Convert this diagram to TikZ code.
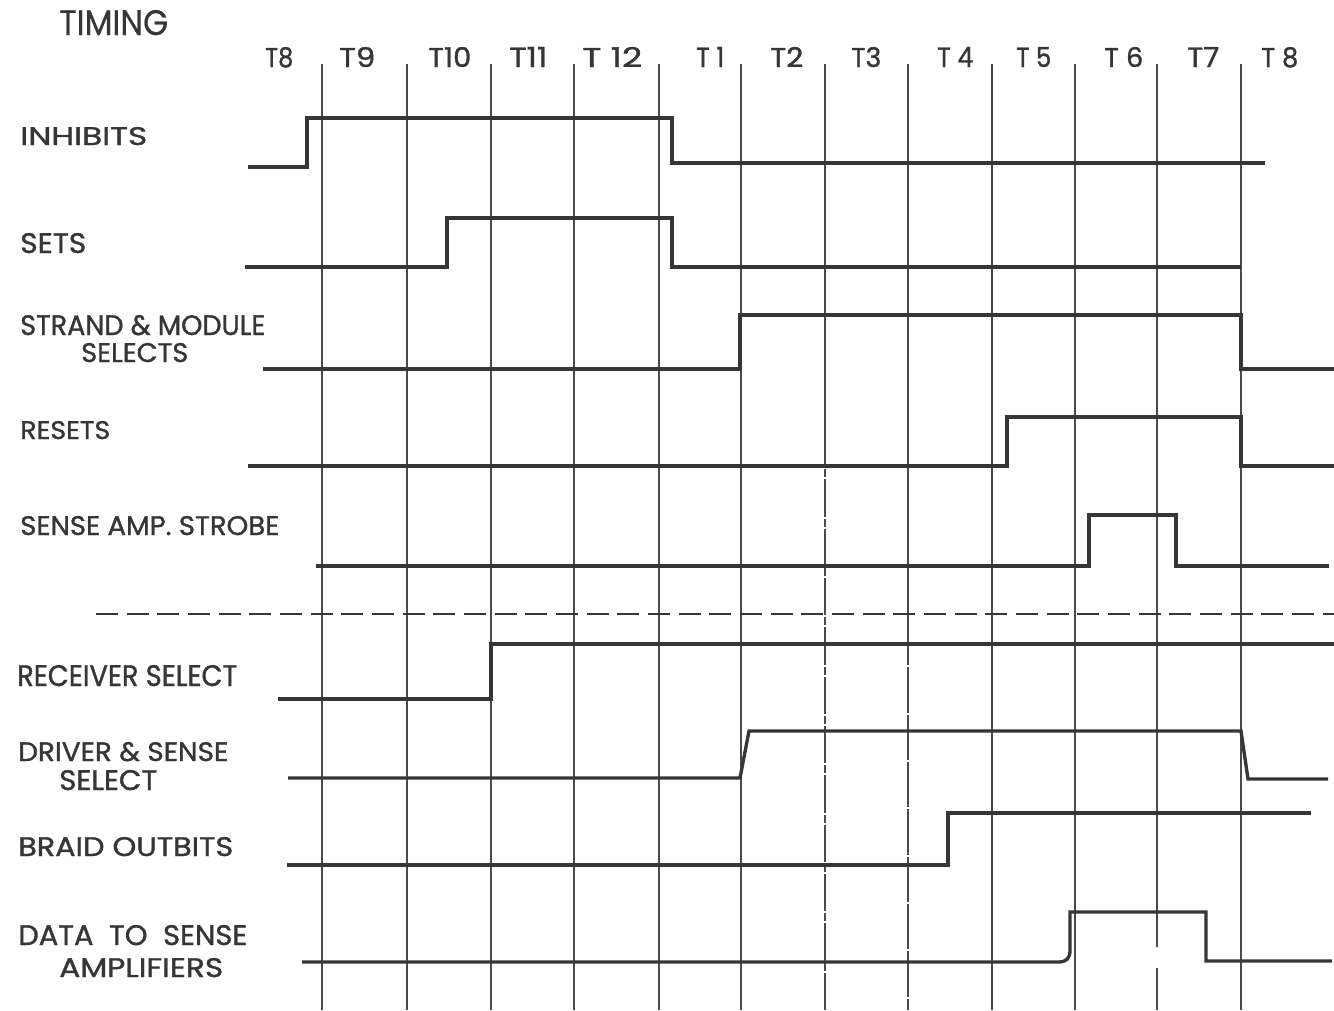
\documentclass[tikz,border=0pt]{standalone}
\usepackage{fontspec}
\setmainfont{Poppins}
\newfontfamily\lblfont[FakeBold=1.2]{Poppins}
\newfontfamily\ttlfont[FakeBold=0.5]{Poppins}
\usepackage{graphicx}
\newlength\pxu
\setlength\pxu{0.75pt}
\newcommand\fitbox[3]{\resizebox{#1\pxu}{#2\pxu}{#3}}
\definecolor{ink}{HTML}{363636}
\definecolor{gridc}{HTML}{4A4A4A}
\begin{document}
\begin{tikzpicture}[x=0.75pt,y=-0.75pt,
  lbl/.style={anchor=base west,inner sep=0pt,text=ink,font=\lblfont},
  sig/.style={draw=ink,line width=2.5pt,line join=miter},
  gridline/.style={draw=gridc,line width=0.95pt},
  sep/.style={draw=ink,line width=1.1pt,dash pattern=on 16.5pt off 6.5pt}]
\useasboundingbox[fill=white] (0,0) rectangle (1334,1010);

% title and time slots
\node[lbl,font=\ttlfont] (title) at (59,35) {\fitbox{109}{25}{TIMING}};
\node[lbl] (t8a)  at (265,67)  {\fitbox{28}{20}{T8}};
\node[lbl] (t9)   at (339,67)  {\fitbox{36}{20}{T9}};
\node[lbl] (t10)  at (428,67)  {\fitbox{43}{20}{T10}};
\node[lbl] (t11)  at (509,67)  {\fitbox{38}{20}{T11}};
\node[lbl] (t12)  at (582,67)  {\fitbox{60}{20}{T 12}};
\node[lbl] (t1)   at (696,67)  {\fitbox{28}{20}{T 1}};
\node[lbl] (t2)   at (770,67)  {\fitbox{33}{20}{T2}};
\node[lbl] (t3)   at (851,67)  {\fitbox{30}{20}{T3}};
\node[lbl] (t4)   at (937,67)  {\fitbox{36}{20}{T 4}};
\node[lbl] (t5)   at (1016,67) {\fitbox{35}{20}{T 5}};
\node[lbl] (t6)   at (1104,67) {\fitbox{39}{20}{T 6}};
\node[lbl] (t7)   at (1187,67) {\fitbox{32}{20}{T7}};
\node[lbl] (t8b)  at (1261,67) {\fitbox{37}{20}{T 8}};

% grid
\foreach \gx in {322,407,491,574,659,741,992,1075,1241}
  \draw[gridline] (\gx,64) -- (\gx,1010);
\draw[gridline] (825,64) -- (825,430);
\draw[gridline,dash pattern=on 28pt off 1.5pt on 6pt off 1.5pt] (825,430) -- (825,1010);
\draw[gridline] (908,64) -- (908,620);
\draw[gridline,dash pattern=on 34pt off 1.5pt] (908,620) -- (908,1010);
\draw[gridline] (1157,64) -- (1157,947);
\draw[gridline] (1157,968) -- (1157,1010);

% signal labels
\node[lbl] (inh)  at (20,145)  {\fitbox{127}{18}{INHIBITS}};
\node[lbl] (sets) at (20,253)  {\fitbox{66}{20}{SETS}};
\node[lbl] (str1) at (20,335)  {\fitbox{245}{20}{STRAND \& MODULE}};
\node[lbl] (str2) at (81,362)  {\fitbox{107}{19}{SELECTS}};
\node[lbl] (res)  at (20,439)  {\fitbox{90}{18}{RESETS}};
\node[lbl] (stb)  at (20,535)  {\fitbox{259}{19}{SENSE AMP. STROBE}};
\node[lbl] (rcv)  at (17,686)  {\fitbox{220}{21}{RECEIVER SELECT}};
\node[lbl] (drv1) at (18,761)  {\fitbox{210}{19}{DRIVER \& SENSE}};
\node[lbl] (drv2) at (59,790)  {\fitbox{98}{20}{SELECT}};
\node[lbl] (brd)  at (18,856)  {\fitbox{215}{19}{BRAID OUTBITS}};
\node[lbl] (dat1) at (18,945)  {\fitbox{229}{20}{DATA\ \ TO\ \ SENSE}};
\node[lbl] (dat2) at (59,977)  {\fitbox{164}{19}{AMPLIFIERS}};

% waveforms
\draw[sig] (248,167) -- (307,167) -- (307,118) -- (672,118) -- (672,163) -- (1265,163);
\draw[sig] (245,267) -- (447,267) -- (447,218) -- (672,218) -- (672,267) -- (1241,267);
\draw[sig] (263,369) -- (740,369) -- (740,315) -- (1241,315) -- (1241,369) -- (1334,369);
\draw[sig] (248,466) -- (1007,466) -- (1007,417) -- (1241,417) -- (1241,466) -- (1334,466);
\draw[sig] (316,566) -- (1089,566) -- (1089,515) -- (1176,515) -- (1176,566) -- (1329,566);
\draw[sep] (96,614) -- (1334,614);
\draw[sig] (278,699) -- (491,699) -- (491,644) -- (1334,644);
\draw[sig] (288,778) -- (740,778) -- (749,731) -- (1241,731) -- (1248,779) -- (1328,779);
\draw[sig] (287,865) -- (948,865) -- (948,813) -- (1311,813);
\draw[sig] (302,962) -- (1058,962) .. controls (1067,962) and (1070,958) .. (1070,950)
  -- (1070,912) -- (1206,912) -- (1206,961) -- (1332,961);
\end{tikzpicture}
\end{document}
